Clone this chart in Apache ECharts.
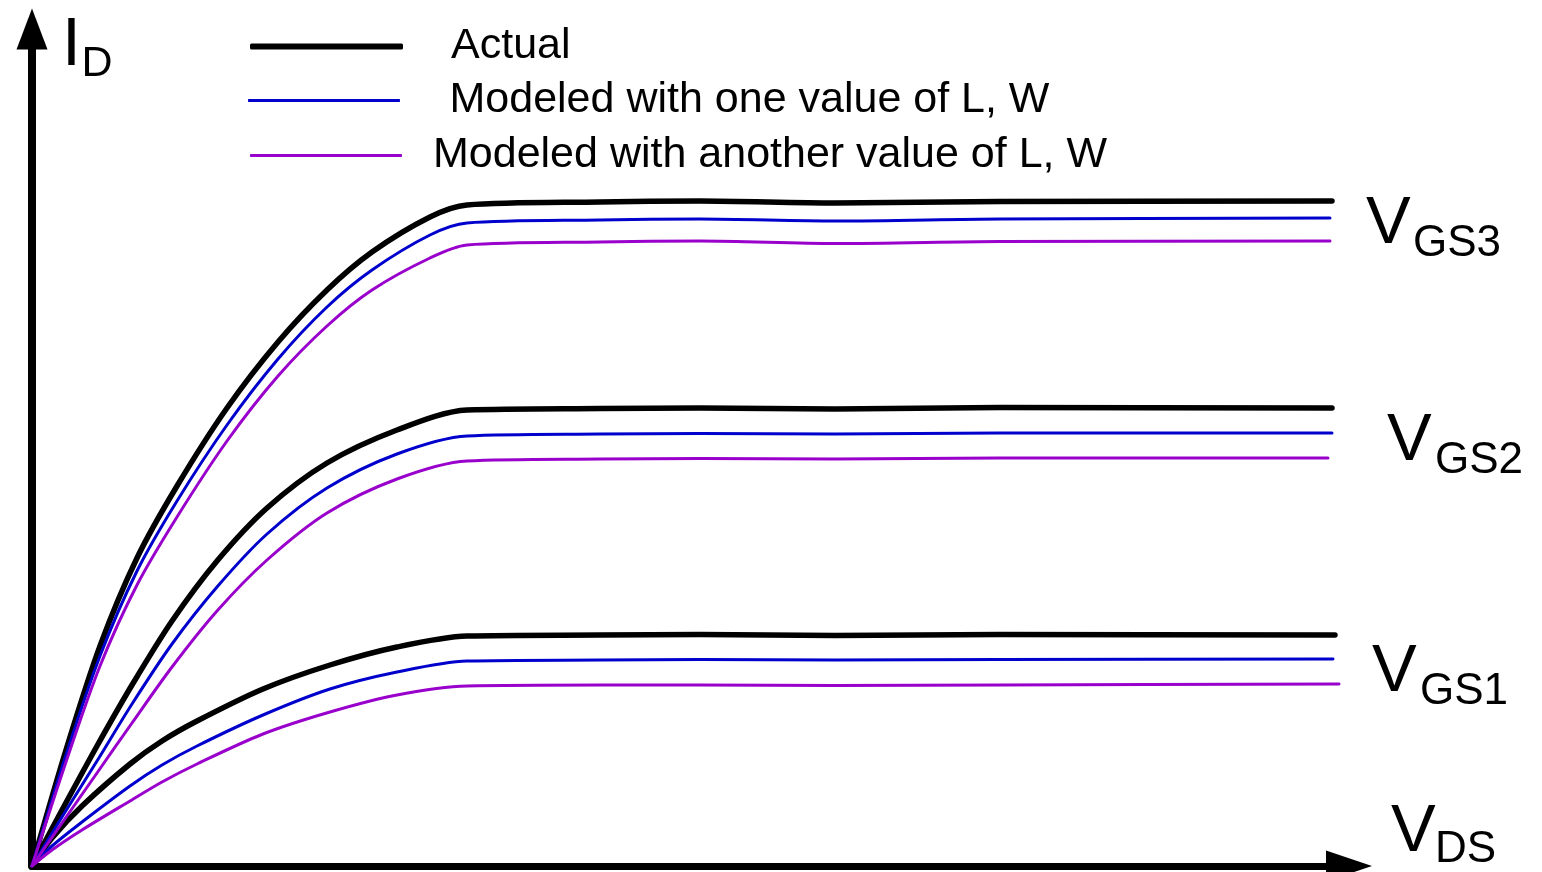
<!DOCTYPE html>
<html>
<head>
<meta charset="utf-8">
<script src="https://cdn.jsdelivr.net/npm/echarts@6/dist/echarts.min.js"></script>
<style>
html,body{margin:0;padding:0;background:#fff;}
#chart{width:1542px;height:872px;}
</style>
</head>
<body>
<div id="chart"></div>
<script>
// Series names (legend)
const seriesNames = ['Actual', 'Modeled with one value of L, W', 'Modeled with another value of L, W'];
const curveLabels = ['GS3', 'GS2', 'GS1'];

// [V_DS, I_D] pairs (arbitrary units)
const actual3 = [[0,0],[0.34,1.16],[0.68,2.20],[1.05,3.08],[1.45,3.80],[1.95,4.58],[2.46,5.24],[2.95,5.76],[3.40,6.14],[3.98,6.49],[4.35,6.61],[5.68,6.64],[6.68,6.65],[8.03,6.63],[9.68,6.645],[13.0,6.65]];
const modelA3 = [[0,0],[0.34,1.11],[0.68,2.10],[1.05,2.95],[1.45,3.65],[1.95,4.41],[2.46,5.07],[2.95,5.59],[3.40,5.96],[3.98,6.31],[4.35,6.43],[5.68,6.46],[6.68,6.47],[8.03,6.45],[9.68,6.47],[12.98,6.48]];
const modelB3 = [[0,0],[0.34,1.04],[0.68,2.00],[1.05,2.81],[1.45,3.49],[1.95,4.25],[2.46,4.90],[2.95,5.40],[3.40,5.76],[3.98,6.08],[4.35,6.21],[5.68,6.24],[6.68,6.25],[8.03,6.225],[9.68,6.245],[12.98,6.25]];

const actual2 = [[0,0],[0.3,0.56],[0.65,1.20],[1.0,1.81],[1.4,2.45],[1.85,3.05],[2.35,3.58],[2.95,4.03],[3.65,4.36],[4.35,4.56],[5.68,4.575],[6.68,4.58],[8.03,4.57],[9.68,4.585],[13.0,4.58]];
const modelA2 = [[0,0],[0.3,0.49],[0.65,1.05],[1.0,1.62],[1.4,2.22],[1.85,2.79],[2.35,3.32],[2.95,3.78],[3.65,4.12],[4.35,4.30],[5.68,4.32],[6.68,4.325],[8.03,4.32],[9.68,4.33],[13.0,4.33]];
const modelB2 = [[0,0],[0.3,0.43],[0.65,0.93],[1.0,1.43],[1.4,1.99],[1.85,2.55],[2.35,3.06],[2.95,3.53],[3.65,3.87],[4.35,4.05],[5.68,4.07],[6.68,4.075],[8.03,4.07],[9.68,4.08],[12.96,4.08]];

const actual1 = [[0,0],[0.2,0.28],[0.5,0.60],[0.98,1.02],[1.3,1.25],[1.65,1.45],[2.31,1.77],[2.98,2.01],[3.65,2.19],[4.35,2.30],[5.68,2.31],[6.68,2.315],[8.03,2.305],[9.68,2.315],[13.03,2.31]];
const modelA1 = [[0,0],[0.2,0.20],[0.5,0.44],[0.98,0.80],[1.3,1.01],[1.65,1.20],[2.31,1.51],[2.98,1.77],[3.65,1.94],[4.35,2.05],[5.68,2.06],[6.68,2.065],[8.03,2.06],[9.68,2.065],[13.01,2.07]];
const modelB1 = [[0,0],[0.2,0.16],[0.5,0.36],[0.98,0.65],[1.3,0.84],[1.65,1.02],[2.31,1.32],[2.98,1.54],[3.65,1.71],[4.35,1.80],[5.68,1.81],[6.68,1.81],[8.03,1.805],[9.68,1.81],[13.07,1.82]];

const FONT = '"Liberation Sans", Arial, Helvetica, sans-serif';
const COLORS = ['#000000', '#0000cc', '#9900cc'];
const WIDTHS = [5.5, 3, 3];

function mk(nameIdx, data) {
  return {
    type: 'line',
    name: seriesNames[nameIdx],
    data: data,
    color: COLORS[nameIdx],
    showSymbol: false,
    symbol: 'none',
    smooth: 0.3,
    lineStyle: { color: COLORS[nameIdx], width: WIDTHS[nameIdx], cap: 'round', join: 'round' },
    silent: true,
    z: 2 + nameIdx
  };
}

function legendItem(idx, left, top, width, height, pad) {
  return {
    data: [seriesNames[idx]],
    left: left, top: top, padding: 0,
    orient: 'horizontal',
    icon: 'roundRect',
    itemWidth: width, itemHeight: height,
    selectedMode: false,
    itemStyle: { borderWidth: 0 },
    textStyle: { fontSize: 43, fontFamily: FONT, color: '#000', padding: [0, 0, 0, pad] }
  };
}

function txt(str, x, y, size) {
  return {
    type: 'text', x: x, y: y, silent: true,
    style: { text: str, fontSize: size, fontFamily: FONT, fill: '#000', align: 'left', verticalAlign: 'middle' }
  };
}

const chart = echarts.init(document.getElementById('chart'), null, { renderer: 'canvas' });
chart.setOption({
  animation: false,
  backgroundColor: '#ffffff',
  grid: { left: 32, right: 193, top: 29, bottom: 6, containLabel: false },
  xAxis: {
    type: 'value', min: 0, max: 13.17,
    axisLine: { show: true, onZero: false, symbol: ['none', 'triangle'], symbolSize: [31, 46], lineStyle: { color: '#000', width: 7 } },
    axisTick: { show: false }, axisLabel: { show: false }, splitLine: { show: false }
  },
  yAxis: {
    type: 'value', min: 0, max: 8.37,
    axisLine: { show: true, onZero: false, symbol: ['none', 'triangle'], symbolSize: [31, 41], lineStyle: { color: '#000', width: 8 } },
    axisTick: { show: false }, axisLabel: { show: false }, splitLine: { show: false }
  },
  legend: [
    legendItem(0, 250, 25, 153, 6, 43),
    legendItem(1, 248, 79, 152, 3, 44.5),
    legendItem(2, 250, 134, 152, 3, 26)
  ],
  series: [
    mk(0, actual3), mk(1, modelA3), mk(2, modelB3),
    mk(0, actual2), mk(1, modelA2), mk(2, modelB2),
    mk(0, actual1), mk(1, modelA1), mk(2, modelB1)
  ],
  graphic: [
    txt('I', 62, 46.4, 68), txt('D', 81.6, 64.1, 43),
    txt('V', 1366, 224.8, 67), txt(curveLabels[0], 1413, 243.8, 44),
    txt('V', 1387, 441.8, 67), txt(curveLabels[1], 1435, 460.8, 44),
    txt('V', 1372, 672.8, 67), txt(curveLabels[2], 1420, 691.8, 44),
    txt('V', 1391, 832.8, 67), txt('DS', 1435, 849.8, 44)
  ]
});
</script>
</body>
</html>
